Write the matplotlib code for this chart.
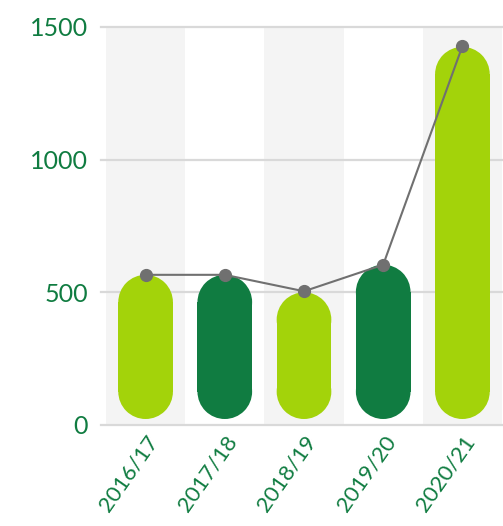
import matplotlib
matplotlib.use("Agg")
import matplotlib.pyplot as plt
from matplotlib.patches import Rectangle, Ellipse

categories = ["2016/17", "2017/18", "2018/19", "2019/20", "2020/21"]
bar_values = [566, 566, 500, 604, 1425]
line_values = [566, 566, 504, 604, 1428]
bar_colors = ["#a3d30a", "#107c41", "#a3d30a", "#107c41", "#a3d30a"]
y_ticks = [0, 500, 1000, 1500]

W, H, DPI = 503, 526, 100
fig = plt.figure(figsize=(W / DPI, H / DPI), dpi=DPI)
ax = fig.add_axes([106 / W, 1 - 425 / H, (502 - 106) / W, (425 - 27) / H])
ax.set_xlim(-0.5, len(categories) - 0.5)
ax.set_ylim(0, 1500)

# alternating background bands
for i in range(0, len(categories), 2):
    ax.add_patch(Rectangle((i - 0.5, 0), 1, 1500, color="#f4f4f4", zorder=0, lw=0))

# gridlines
for t in y_ticks:
    ax.axhline(t, xmin=-0.012, xmax=1, color="#d9d9d9", lw=1.6, zorder=1, clip_on=False)

# rounded (pill) bars
px_per_x = (502 - 106) / len(categories)
px_per_y = (425 - 27) / 1500
bw = 0.69
gap = 6 / px_per_y
r_y = (bw / 2) * px_per_x / px_per_y
for i, (v, c) in enumerate(zip(bar_values, bar_colors)):
    y0, y1 = gap + r_y, v - r_y
    ax.add_patch(Rectangle((i - bw / 2, y0), bw, y1 - y0, fc=c, ec="none", zorder=2))
    ax.add_patch(Ellipse((i, y0), bw, 2 * r_y, fc=c, ec="none", zorder=2))
    ax.add_patch(Ellipse((i, y1), bw, 2 * r_y, fc=c, ec="none", zorder=2))

ax.plot(range(len(categories)), line_values, color="#707070", lw=1.5,
        marker="o", ms=8.5, zorder=3, clip_on=False)

for s in ax.spines.values():
    s.set_visible(False)
ax.set_yticks(y_ticks)
ax.set_yticklabels([str(t) for t in y_ticks])
ax.set_xticks(range(len(categories)))
ax.set_xticklabels(categories, rotation=55, ha="right", rotation_mode="anchor")
ax.tick_params(axis="both", length=0, colors="#107c41")
ax.tick_params(axis="y", pad=13, labelsize=18)
ax.tick_params(axis="x", pad=5, labelsize=16)
for lab in ax.get_xticklabels() + ax.get_yticklabels():
    lab.set_family(["Lato", "DejaVu Sans"])
    lab.set_color("#107c41")

fig.savefig("out.png", dpi=DPI)
